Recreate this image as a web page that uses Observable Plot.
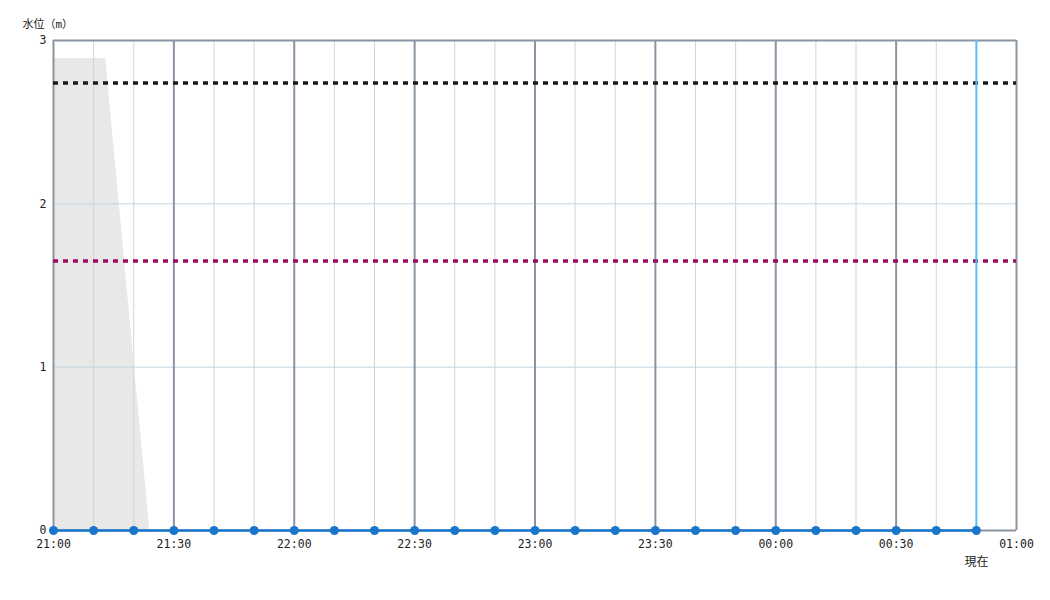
<!DOCTYPE html>
<html>
<head>
<meta charset="utf-8">
<script src="https://cdn.jsdelivr.net/npm/d3@7"></script>
<script src="https://cdn.jsdelivr.net/npm/@observablehq/plot@0.6"></script>
<style>
  html, body { margin: 0; padding: 0; background: #fff; }
  #chart svg { font-family: "DejaVu Sans Mono", "Noto Sans CJK JP", monospace; }
</style>
</head>
<body>
<div id="chart"></div>
<script>
// ---- data ----
const obsTimes = ["21:00","21:10","21:20","21:30","21:40","21:50","22:00","22:10","22:20","22:30","22:40","22:50","23:00","23:10","23:20","23:30","23:40","23:50","00:00","00:10","00:20","00:30","00:40","00:50"];
const obsLevels = [0,0,0,0,0,0,0,0,0,0,0,0,0,0,0,0,0,0,0,0,0,0,0,0];
const shadeTimes = ["21:00","21:13","21:24"];
const shadeLevels = [2.89,2.89,0];
const thresholdLevels = [2.74, 1.65];
const thresholdColors = ["#1a1a1a", "#9c0a62"];
const majorTickTimes = ["21:00","21:30","22:00","22:30","23:00","23:30","00:00","00:30","01:00"];
const minorTickTimes = ["21:10","21:20","21:40","21:50","22:10","22:20","22:40","22:50","23:10","23:20","23:40","23:50","00:10","00:20","00:40","00:50"];
const yTicks = [0, 1, 2, 3];
const yGrid = [1, 2];
const nowTime = "00:50";
const nowLabel = "現在";
const yTitle = "水位（m）";

function toDate(s) {
  const [h, m] = s.split(":").map(Number);
  const day = h >= 12 ? 1 : 2;
  return new Date(Date.UTC(2024, 0, day, h, m));
}

const obs = obsTimes.map((t, i) => ({t: toDate(t), v: obsLevels[i]}));
const shade = shadeTimes.map((t, i) => ({t: toDate(t), v: shadeLevels[i]}));
const thresholds = thresholdLevels.map((v, i) => ({v, c: thresholdColors[i]}));
const majors = majorTickTimes.map(toDate);
const minors = minorTickTimes.map(toDate);
const now = toDate(nowTime);
const fmt = d3.utcFormat("%H:%M");

const plot = Plot.plot({
  width: 1050,
  height: 600,
  marginLeft: 53,
  marginRight: 34,
  marginTop: 40,
  marginBottom: 70,
  x: {type: "utc", domain: [majors[0], majors[majors.length - 1]], label: null},
  y: {domain: [0, 3], label: null},
  style: {fontSize: "11px", color: "#222"},
  marks: [
    Plot.areaY(shade, {x: "t", y: "v", fill: "#e8e8e8"}),
    Plot.ruleX(minors, {stroke: "#d4d4d4", strokeWidth: 1}),
    Plot.ruleY(yGrid, {stroke: "#c3d3de", strokeWidth: 1}),
    Plot.ruleX(majors, {stroke: "#8995a2", strokeWidth: 2}),
    Plot.ruleY([3], {stroke: "#8995a2", strokeWidth: 2}),
    Plot.ruleY([0], {stroke: "#8995a2", strokeWidth: 2}),
    Plot.ruleY(thresholds, {y: "v", stroke: "c", strokeWidth: 3.5, strokeDasharray: "5,5"}),
    Plot.ruleX([now], {stroke: "#4fc3f7", strokeWidth: 2}),
    Plot.line(obs, {x: "t", y: "v", stroke: "#1a75cc", strokeWidth: 2.5}),
    Plot.dot(obs, {x: "t", y: "v", r: 4.5, fill: "#1a75cc", stroke: "none"}),
    Plot.axisX({ticks: majors, tickFormat: fmt, tickSize: 0, tickPadding: 9, fontSize: 11.5, label: null}),
    Plot.axisY({ticks: yTicks, tickFormat: d3.format("d"), tickSize: 0, tickPadding: 7, label: null, fontSize: 11.5}),
    Plot.text([nowLabel], {x: now, y: 0, dy: 32, fontSize: 12, fill: "#222"}),
    Plot.text([yTitle], {frameAnchor: "top-left", dx: -31, dy: -20, textAnchor: "start", fontSize: 11, fill: "#222"})
  ]
});
document.getElementById("chart").appendChild(plot);
</script>
</body>
</html>
